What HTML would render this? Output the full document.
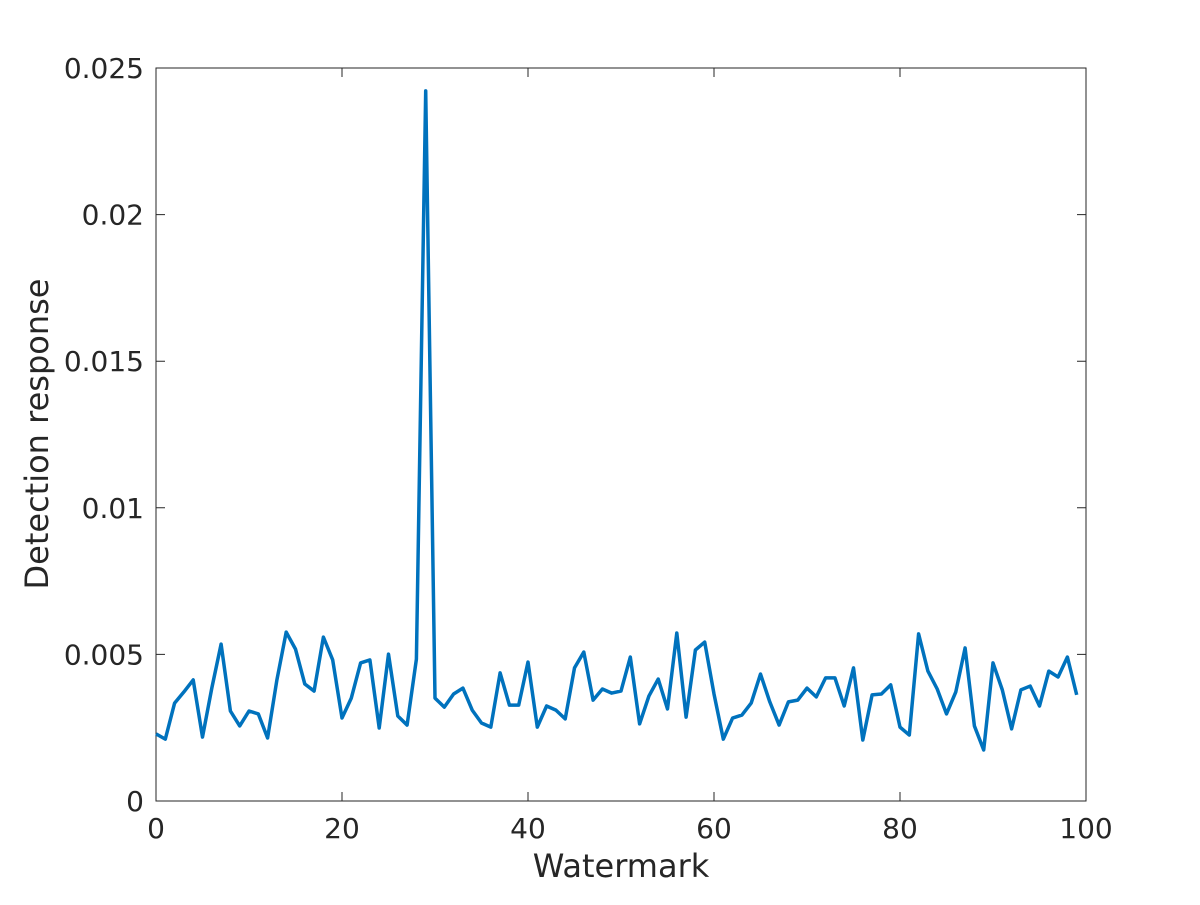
<!DOCTYPE html>
<html><head><meta charset="utf-8"><style>
body{margin:0;background:#fff;}
svg text{font-family:"DejaVu Sans","Liberation Sans",sans-serif;fill:#262626;}
</style></head><body>
<svg id="chart" width="1200" height="900" xmlns="http://www.w3.org/2000/svg">
<rect x="156" y="68" width="930" height="733" fill="#fff" stroke="#262626" stroke-width="1"/>
<g id="ticks"></g>
<path id="line" fill="none" stroke="#0072BD" stroke-width="3.5" stroke-linejoin="round"/>
<text x="621" y="877" font-size="32" text-anchor="middle">Watermark</text>
<text transform="translate(48,434) rotate(-90)" font-size="32" text-anchor="middle">Detection response</text>
</svg>
<script>
const values=[.00229,.00211,.00334,.00372,.00413,.00218,.00385,.00535,.00307,.00256,
.00307,.00297,.00215,.00413,.00576,.00518,.00399,.00375,.00559,.00481,
.00283,.00351,.00471,.00481,.00249,.00501,.0029,.00259,.00484,.02422,
.00351,.0032,.00365,.00385,.0031,.00266,.00252,.00437,.00327,.00327,
.00474,.00252,.00324,.0031,.0028,.00454,.00508,.00344,.00382,.00368,
.00375,.00491,.00263,.00358,.00416,.00314,.00573,.00286,.00515,.00542,
.00365,.00211,.00283,.00293,.00334,.00433,.00338,.00259,.00338,.00344,
.00385,.00355,.0042,.0042,.00324,.00454,.00208,.00362,.00365,.00396,
.00252,.00225,.0057,.00443,.00382,.00297,.00372,.00522,.00256,.00174,
.00471,.00379,.00246,.00379,.00392,.00324,.00443,.00423,.00491,.00362];
const xTicks=[0,20,40,60,80,100];
const yTicks=[0,0.005,0.01,0.015,0.02,0.025];
const yTickLabels=["0","0.005","0.01","0.015","0.02","0.025"];
const X=v=>156+v*9.3, Y=v=>801-v*29320;
const ns="http://www.w3.org/2000/svg";
const g=document.getElementById('ticks');
function mk(tag,attrs){const e=document.createElementNS(ns,tag);for(const k in attrs)e.setAttribute(k,attrs[k]);g.appendChild(e);return e;}
xTicks.forEach(t=>{
  const x=X(t);
  let l=mk('path',{d:`M${x},801v-9M${x},68v9`,stroke:'#262626'});
  
  
  let tx=mk('text',{x:x,y:838,'font-size':28,'text-anchor':'middle'});tx.textContent=t;
  
  
});
yTicks.forEach((t,i)=>{
  const y=Y(t);
  let l=mk('path',{d:`M156,${y}h9M1086,${y}h-9`,stroke:'#262626'});
  
  
  let tx=mk('text',{x:144,y:y+10,'font-size':28,'text-anchor':'end'});tx.textContent=yTickLabels[i];
  
  
});
document.getElementById('line').setAttribute('d',values.map((v,i)=>(i?'L':'M')+X(i)+','+Y(v)).join(''));
</script>
</body></html>
